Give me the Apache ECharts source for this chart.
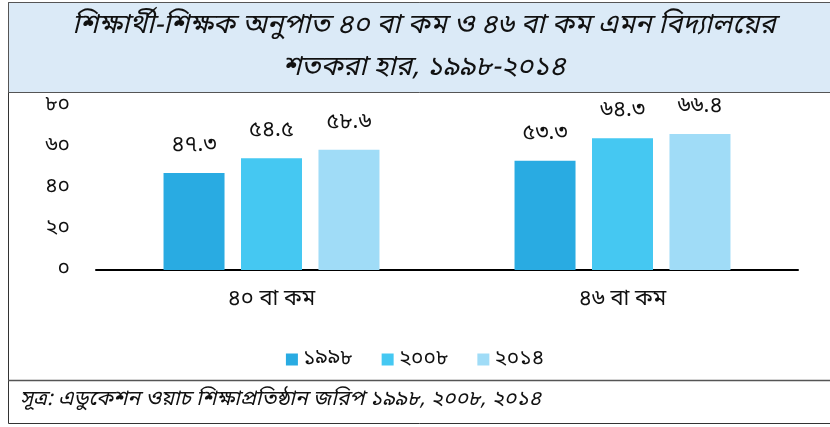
<!DOCTYPE html>
<html>
<head>
<meta charset="utf-8">
<script src="https://cdn.jsdelivr.net/npm/echarts@6/dist/echarts.min.js"></script>
<style>
  html, body { margin: 0; padding: 0; background: #fff; }
  #chart { width: 830px; height: 427px; }
</style>
</head>
<body>
<div id="chart"></div>
<script>
var categories = ['৪০ বা কম', '৪৬ বা কম'];
var years = ['১৯৯৮', '২০০৮', '২০১৪'];
var values1998 = [47.3, 53.3];
var values2008 = [54.5, 64.3];
var values2014 = [58.6, 66.4];
var yTicks = ['০', '২০', '৪০', '৬০', '৮০'];
var colors = ['#29abe2', '#45c8f2', '#a0dcf7'];

var FONT = "'Noto Sans Bengali', 'Noto Sans', sans-serif";
var bnDigits = '০১২৩৪৫৬৭৮৯';
function toBn(v) {
  return String(v).replace(/[0-9]/g, function (d) { return bnDigits[+d]; });
}

var chartDom = document.getElementById('chart');
var myChart = echarts.init(chartDom);

function makeSeries(name, data, color) {
  return {
    name: name,
    type: 'bar',
    data: data,
    barWidth: 61,
    barGap: '27%',
    itemStyle: { color: color },
    label: {
      show: true,
      position: 'top',
      distance: 15,
      fontFamily: FONT,
      fontSize: 22,
      color: '#111',
      formatter: function (p) { return toBn(p.value.toFixed(1)); }
    }
  };
}

var option = {
  animation: false,
  color: colors,
  graphic: [
    {
      type: 'rect',
      shape: { x: 8.5, y: 2.5, width: 830, height: 421 },
      style: { fill: 'none', stroke: '#333', lineWidth: 1 },
      z: -1
    },
    {
      type: 'rect',
      shape: { x: 8.5, y: 2.5, width: 830, height: 90 },
      style: { fill: '#dbeaf7', stroke: '#555', lineWidth: 1 },
      z: -1
    },
    {
      type: 'line',
      shape: { x1: 8, y1: 380.5, x2: 830, y2: 380.5 },
      style: { stroke: '#555', lineWidth: 1.5 }
    },
    {
      type: 'text',
      left: 20,
      top: 390,
      style: {
        text: 'সূত্র: এডুকেশন ওয়াচ শিক্ষাপ্রতিষ্ঠান জরিপ ১৯৯৮, ২০০৮, ২০১৪',
        font: 'italic 21px ' + FONT,
        fill: '#111'
      }
    }
  ],
  title: {
    text: 'শিক্ষার্থী-শিক্ষক অনুপাত ৪০ বা কম ও ৪৬ বা কম এমন বিদ্যালয়ের\nশতকরা হার, ১৯৯৮-২০১৪',
    left: 419,
    textAlign: 'center',
    top: 2,
    textStyle: {
      fontFamily: FONT,
      fontStyle: 'italic',
      fontWeight: 'normal',
      fontSize: 27.5,
      lineHeight: 42,
      color: '#111'
    }
  },
  legend: {
    data: years,
    bottom: 52,
    left: 'center',
    itemWidth: 12,
    itemHeight: 12,
    itemGap: 29,
    icon: 'rect',
    textStyle: { fontFamily: FONT, fontSize: 21, color: '#111' }
  },
  grid: { left: 96, right: 32, top: 106, bottom: 157 },
  xAxis: {
    type: 'category',
    data: categories,
    axisLine: { lineStyle: { color: '#000', width: 2 } },
    axisTick: { show: false },
    axisLabel: { margin: 20, fontFamily: FONT, fontSize: 22, color: '#111' }
  },
  yAxis: {
    type: 'value',
    min: 0,
    max: 80,
    interval: 20,
    splitLine: { show: false },
    axisLine: { show: false },
    axisTick: { show: false },
    axisLabel: {
      margin: 26,
      fontFamily: FONT,
      fontSize: 21,
      color: '#111',
      formatter: function (v) { return yTicks[v / 20]; }
    }
  },
  series: [
    makeSeries(years[0], values1998, colors[0]),
    makeSeries(years[1], values2008, colors[1]),
    makeSeries(years[2], values2014, colors[2])
  ]
};

myChart.setOption(option);
</script>
</body>
</html>
